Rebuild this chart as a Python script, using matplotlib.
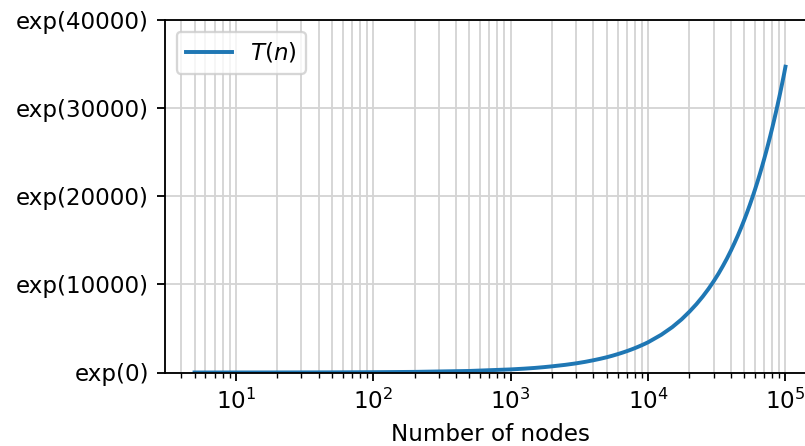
import numpy as np
import matplotlib
matplotlib.use('Agg')
import matplotlib.pyplot as plt

# values (log T(n) against number of nodes)
n_nodes = [5, 10, 20, 50, 100, 200, 500, 1000, 1250, 1500, 1750, 2000, 2500,
           3000, 3500, 4000, 4500, 5000, 5500, 6000, 6500, 7000, 7500, 8000,
           8500, 9000, 9500, 10000, 12500, 15000, 17500, 20000, 22500, 25000,
           27500, 30000, 32500, 35000, 37500, 40000, 42500, 45000, 47500,
           50000, 52500, 55000, 57500, 60000, 62500, 65000, 67500, 70000,
           72500, 75000, 77500, 80000, 82500, 85000, 87500, 90000, 92500,
           95000, 97500, 100000]
log_T = [2, 3.5, 7, 17, 35, 70, 175, 350, 435, 520, 610, 700, 870,
         1040, 1215, 1390, 1560, 1730, 1905, 2080, 2250, 2420, 2590, 2760,
         2930, 3100, 3265, 3430, 4290, 5150, 6020, 6900, 7760, 8620,
         9480, 10340, 11200, 12070, 12930, 13800, 14670, 15530, 16400,
         17270, 18140, 19010, 19880, 20750, 21620, 22490, 23360, 24230,
         25100, 25970, 26840, 27710, 28580, 29450, 30320, 31190, 32060,
         32930, 33800, 34700]
y_ticks = [0, 10000, 20000, 30000, 40000]
y_labels = ['exp(%d)' % v for v in y_ticks]

dpi = 166
fig = plt.figure(figsize=(805 / dpi, 446 / dpi), dpi=dpi)
ax = fig.add_axes([165 / 805, 1 - 372.5 / 446, 650 / 805, 352.5 / 446])

ax.plot(n_nodes, log_T, color='#1f77b4', linewidth=1.7, label='$T(n)$')
ax.set_xscale('log')
ax.set_ylim(0, 40000)
ax.set_yticks(y_ticks)
ax.set_yticklabels(y_labels)
ax.set_xlabel('Number of nodes')
ax.grid(True, which='both', color='#d4d4d4', linewidth=0.8)
ax.legend(loc='upper left')

fig.savefig('out.png', dpi=dpi)
